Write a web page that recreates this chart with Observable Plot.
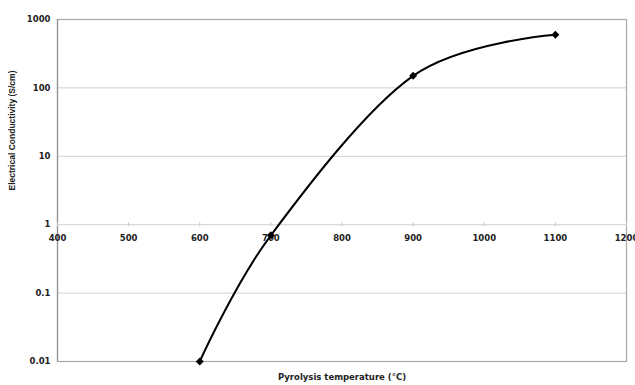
<!DOCTYPE html>
<html><head><meta charset="utf-8">
<script src="https://cdn.jsdelivr.net/npm/d3@7"></script>
<script src="https://cdn.jsdelivr.net/npm/@observablehq/plot@0.6"></script>
<style>
html,body{margin:0;padding:0;background:#fff;}
</style>
</head><body>
<div id="chart"></div>
<script>
const temperature = [600, 700, 900, 1100];
const conductivity = [0.01, 0.7, 150, 600];
const xTicks = [400, 500, 600, 700, 800, 900, 1000, 1100, 1200];
const yTicks = [0.01, 0.1, 1, 10, 100, 1000];
const yTickLabels = ["0.01", "0.1", "1", "10", "100", "1000"];
const xLabel = "Pyrolysis temperature (°C)";
const yLabel = "Electrical Conductivity (S/cm)";

const data = temperature.map((t, i) => ({t, c: conductivity[i]}));
const yTickData = yTicks.map((v, i) => ({v, label: yTickLabels[i]}));
const wide = "DejaVu Sans, Verdana, sans-serif";

const chart = Plot.plot({
  width: 635,
  height: 385,
  marginTop: 19,
  marginBottom: 24,
  marginLeft: 57,
  marginRight: 9,
  style: {fontFamily: "Liberation Sans, Arial, sans-serif", fontWeight: "bold", fontSize: "8.5px", color: "#222", background: "#fff"},
  x: {domain: [400, 1200], axis: null},
  y: {type: "log", domain: [0.01, 1000], axis: null},
  marks: [
    Plot.ruleY(yTicks.slice(1, -1), {stroke: "#d0d0d0", strokeWidth: 1}),
    Plot.frame({stroke: "#a8a8a8", strokeWidth: 1.2}),
    Plot.ruleX([400], {stroke: "#909090", strokeWidth: 1.2}),
    Plot.text(yTickData, {y: "v", text: "label", frameAnchor: "left", textAnchor: "end", dx: -7, fill: "#222", fontFamily: wide, fontSize: 8.5}),
    Plot.text([yLabel], {frameAnchor: "left", rotate: -90, dx: -45, fill: "#222", fontSize: 8.5}),
    Plot.ruleX(xTicks, {x: d => d, y1: 1, y2: 1, insetTop: -2, insetBottom: -2, stroke: "#c8c8c8"}),
    Plot.text(xTicks, {x: d => d, y: 1, dy: 14, text: d => String(d), fill: "#222", fontFamily: wide, fontSize: 8.5}),
    Plot.line(data, {x: "t", y: "c", curve: "cardinal", tension: 0, stroke: "#000", strokeWidth: 2}),
    Plot.dot(data, {x: "t", y: "c", symbol: "diamond2", r: 3.6, fill: "#000", stroke: "none"}),
    Plot.text([xLabel], {frameAnchor: "bottom", dy: 18, fill: "#222", fontFamily: wide, fontSize: 8.5})
  ]
});
document.getElementById("chart").appendChild(chart);
</script>
</body></html>
